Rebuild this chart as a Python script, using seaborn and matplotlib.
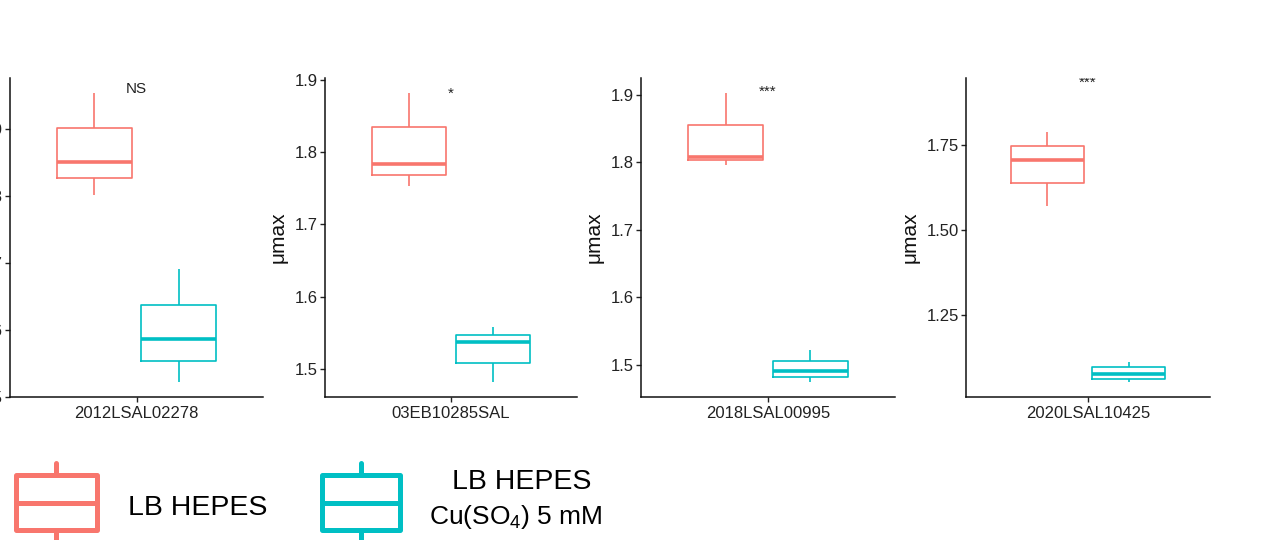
import pandas as pd
import seaborn as sns
import matplotlib.pyplot as plt
from matplotlib.patches import Rectangle
from matplotlib.lines import Line2D
from matplotlib.transforms import blended_transform_factory

# values: min, q1, median, q3, max
strains = ["2012LSAL02278", "03EB10285SAL", "2018LSAL00995", "2020LSAL10425"]
conditions = ["LB HEPES", "LB HEPES Cu(SO4) 5 mM"]
hepes = [
    [1.802, 1.827, 1.851, 1.902, 1.954],
    [1.753, 1.769, 1.784, 1.835, 1.883],
    [1.796, 1.803, 1.808, 1.855, 1.903],
    [1.572, 1.638, 1.707, 1.748, 1.790],
]
hepes_cu = [
    [1.522, 1.554, 1.587, 1.638, 1.691],
    [1.481, 1.508, 1.537, 1.547, 1.557],
    [1.474, 1.482, 1.490, 1.505, 1.522],
    [1.052, 1.063, 1.078, 1.096, 1.112],
]
signif = ["NS", "*", "***", "***"]
ylims = [(1.5, 1.976), (1.4605, 1.9033), (1.452, 1.925), (1.009, 1.9475)]
yticks = [[1.5, 1.6, 1.7, 1.8, 1.9]] * 3 + [[1.25, 1.50, 1.75]]
ytick_fmt = ["{:.1f}"] * 3 + ["{:.2f}"]

colors = ["#F8766D", "#00BFC4"]

rows = []
for s, a, b in zip(strains, hepes, hepes_cu):
    for v in a:
        rows.append((s, conditions[0], v))
    for v in b:
        rows.append((s, conditions[1], v))
df = pd.DataFrame(rows, columns=["strain", "cond", "mumax"])

sns.set_style("ticks")
plt.rcParams["font.family"] = ["Liberation Sans", "DejaVu Sans"]
plt.rcParams["mathtext.fontset"] = "custom"
plt.rcParams["mathtext.rm"] = "Liberation Sans"

W, H = 1279, 540
fig = plt.figure(figsize=(W / 100, H / 100), dpi=100)

# panel extents in pixels (left, right), shared top/bottom
lefts = [10, 325, 641, 966]
rights = [263, 577, 895, 1210]
top, bottom = 78, 397
sig_y = [0.954, 0.937, 0.944, 0.974]

for i, strain in enumerate(strains):
    ax = fig.add_axes([lefts[i] / W, 1 - bottom / H, (rights[i] - lefts[i]) / W, (bottom - top) / H])
    sub = df[df["strain"] == strain]
    sns.boxplot(data=sub, x="strain", y="mumax", hue="cond", hue_order=conditions,
                palette=colors, saturation=1, fill=False, width=0.8, gap=0.11,
                whis=(0, 100), linewidth=1.2, showcaps=False,
                medianprops={"linewidth": 2.6}, legend=False, ax=ax)
    ax.set_xlim(-0.6, 0.6)
    ax.set_ylim(*ylims[i])
    ax.set_yticks(yticks[i])
    ax.set_yticklabels([ytick_fmt[i].format(t) for t in yticks[i]])
    ax.set_xlabel("")
    ax.set_ylabel("μmax", fontsize=15, labelpad=5, color="#111111")
    ax.tick_params(axis="y", labelsize=12, length=3.5, width=1, pad=1.7, colors="#222222")
    ax.tick_params(axis="x", labelsize=12, length=3.5, width=1, pad=3, colors="#222222")
    for sp in ["left", "bottom"]:
        ax.spines[sp].set_linewidth(1.1)
        ax.spines[sp].set_color("#111111")
    sns.despine(ax=ax)
    tr = blended_transform_factory(ax.transData, ax.transAxes)
    ax.text(0, sig_y[i], signif[i], transform=tr, ha="center", va="baseline",
            fontsize=11, color="#222222", clip_on=True)


def fx(x):
    return x / W


def fy(y):
    return 1 - y / H


# manual legend at the bottom
keys = [(16, 96.7, colors[0]), (321.7, 400, colors[1])]
for x0, x1, c in keys:
    fig.add_artist(Rectangle((fx(x0), fy(530)), fx(x1 - x0), (530 - 475) / H,
                             fill=False, edgecolor=c, linewidth=3.6, joinstyle="round"))
    xc = (x0 + x1) / 2
    fig.add_artist(Line2D([fx(x0), fx(x1)], [fy(503.3), fy(503.3)], color=c, linewidth=3.6))
    fig.add_artist(Line2D([fx(xc), fx(xc)], [fy(463), fy(475)], color=c, linewidth=3.6))
    fig.add_artist(Line2D([fx(xc), fx(xc)], [fy(530), fy(545)], color=c, linewidth=3.6))

fig.text(fx(128.3), fy(515), "LB HEPES", fontsize=20.5, color="black",
         ha="left", va="baseline")
fig.text(fx(522), fy(489.3), "LB HEPES", fontsize=20.5, color="black",
         ha="center", va="baseline")
fig.text(fx(515.5), fy(524), r"Cu(SO$_\mathregular{4}$) 5 mM", color="black",
         fontsize=19, ha="center", va="baseline")

fig.savefig("out.png", dpi=100, facecolor="white")
